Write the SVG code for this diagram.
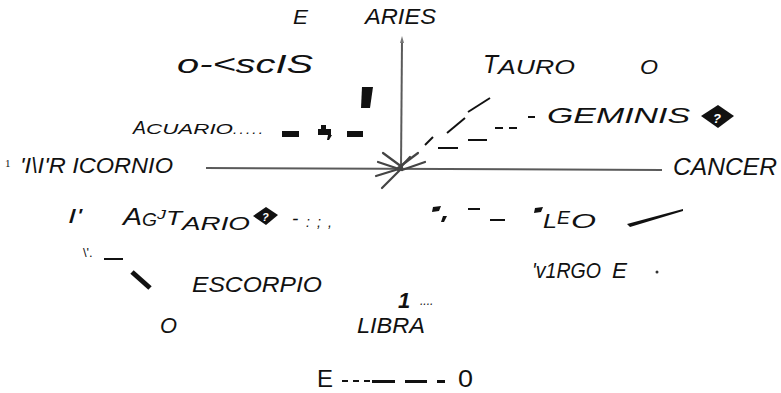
<svg xmlns="http://www.w3.org/2000/svg" width="781" height="393" viewBox="0 0 781 393">
<style>
text{font-family:"Liberation Sans",Arial,sans-serif;fill:#111;font-style:italic}
.ax{stroke:#5a5a5a;stroke-width:2;fill:none}
.ray{stroke:#444;stroke-width:2.2;stroke-linecap:round}
.ink{stroke:#111;stroke-width:2;stroke-linecap:butt}
.blk{fill:#111}
</style>
<rect width="781" height="393" fill="#fff"/>
<g id="connectors">
<line class="ax" x1="402" y1="40" x2="401" y2="168"/>
<polygon points="402,36 400,43 404,43" fill="#777"/>
<line class="ax" x1="206" y1="168" x2="662" y2="170"/>
<g id="burst">
<line class="ray" x1="378" y1="162" x2="402" y2="170"/>
<line class="ray" x1="383" y1="153" x2="402" y2="167"/>
<line class="ray" x1="418" y1="153" x2="398" y2="168"/>
<line class="ray" x1="425" y1="162" x2="402" y2="170"/>
<line class="ray" x1="376" y1="176" x2="402" y2="168"/>
<line class="ray" x1="382" y1="188" x2="400" y2="170"/>
<line class="ray" x1="410" y1="157" x2="398" y2="170"/>
</g>
</g>
<g id="aries"><text x="293" y="24" font-size="21" textLength="15" lengthAdjust="spacingAndGlyphs">E</text><text x="365" y="24" font-size="22" textLength="71" lengthAdjust="spacingAndGlyphs">ARIES</text></g>
<g id="piscis"><text x="177" y="73" font-size="25" textLength="136" lengthAdjust="spacingAndGlyphs">o-&lt;scIS</text>
<polygon class="blk" points="362,87 373,87 370,108 361,108"/></g>
<g id="tauro"><text x="483" y="73" font-size="26" textLength="15" lengthAdjust="spacingAndGlyphs">T</text><text x="498" y="74" font-size="21" textLength="77" lengthAdjust="spacingAndGlyphs">AURO</text><text x="640" y="74" font-size="21" textLength="18" lengthAdjust="spacingAndGlyphs">O</text></g>
<g id="geminis">
<line class="ink" x1="468" y1="112" x2="490" y2="98"/>
<line class="ink" x1="447" y1="133" x2="465" y2="118"/>
<line class="ink" x1="425" y1="145" x2="433" y2="137"/>
<line class="ink" x1="438" y1="148" x2="458" y2="148"/>
<line class="ink" x1="468" y1="140" x2="487" y2="140"/>
<line class="ink" x1="495" y1="128" x2="503" y2="128"/>
<line class="ink" x1="509" y1="128" x2="517" y2="128"/>
<line class="ink" x1="528" y1="117" x2="535" y2="117"/>
<text x="547" y="123" font-size="22" textLength="143" lengthAdjust="spacingAndGlyphs">GEMINIS</text>
<polygon class="blk" points="718,105 734,116 718,128 701,116"/>
<text x="713" y="123" font-size="13" font-weight="bold" style="fill:#fff">?</text>
</g>
<g id="acuario"><text x="133" y="134" font-size="19" textLength="13" lengthAdjust="spacingAndGlyphs">A</text><text x="146" y="134" font-size="15" textLength="87" lengthAdjust="spacingAndGlyphs">CUARIO</text><text x="233" y="134" font-size="15" textLength="30" lengthAdjust="spacing">.....</text>
<rect class="blk" x="282" y="131" width="17" height="6"/>
<rect class="blk" x="318" y="129" width="13" height="6"/>
<rect class="blk" x="321" y="125" width="5" height="4"/>
<path class="blk" d="M328,135 h4 l-3,5 h-2z"/>
<rect class="blk" x="347" y="131" width="16" height="6"/></g>
<g id="capricornio"><text x="5" y="167" font-size="11" style="font-family:'Liberation Serif',serif;font-style:normal">1</text><text x="20" y="173" font-size="22" textLength="153" lengthAdjust="spacingAndGlyphs">'I\I'R ICORNIO</text></g>
<g id="cancer"><text x="673" y="175" font-size="23" textLength="104" lengthAdjust="spacingAndGlyphs">CANCER</text></g>
<g id="sagitario">
<text x="68" y="223" font-size="21" textLength="14" lengthAdjust="spacingAndGlyphs">I'</text>
<text x="123" y="225" font-size="23" textLength="19" lengthAdjust="spacingAndGlyphs">A</text>
<text x="142" y="226" font-size="18" textLength="15" lengthAdjust="spacingAndGlyphs">G</text>
<text x="157" y="219" font-size="13" textLength="9" lengthAdjust="spacingAndGlyphs">J</text>
<text x="166" y="225" font-size="21" textLength="16" lengthAdjust="spacingAndGlyphs">T</text>
<text x="182" y="230" font-size="19" textLength="68" lengthAdjust="spacingAndGlyphs">ARIO</text>
<polygon class="blk" points="266,207 278,215 266,225 253,216"/>
<text x="262" y="221" font-size="11" font-weight="bold" style="fill:#fff">?</text>
<text x="292" y="225" font-size="19">-</text>
<text x="306" y="227" font-size="14" textLength="26" lengthAdjust="spacing">:;,</text>
<text x="83" y="257" font-size="13" style="font-style:normal">\'.</text>
<line class="ink" x1="104" y1="259" x2="123" y2="259" stroke-width="1.5"/>
<line x1="132" y1="272" x2="150" y2="288" stroke="#111" stroke-width="5"/>
</g>
<g id="leo">
<path class="blk" d="M433,207 l8,-1 l-2,5 l-7,1z"/>
<path class="blk" d="M443,216 l4,0 l-3,6 l-3,0z"/>
<line class="ink" x1="468" y1="209" x2="480" y2="209"/>
<line class="ink" x1="490" y1="220" x2="505" y2="220"/>
<path class="blk" d="M535,208 l8,-1 l-2,5 l-7,1z"/>
<text x="543" y="228" font-size="21" textLength="14" lengthAdjust="spacingAndGlyphs">L</text>
<text x="557" y="224" font-size="18" textLength="13" lengthAdjust="spacingAndGlyphs">E</text>
<text x="571" y="228" font-size="20" textLength="25" lengthAdjust="spacingAndGlyphs">O</text>
<path class="blk" d="M627,224 L683,209 L683,211 L630,227z"/>
</g>
<g id="escorpio"><text x="192" y="292" font-size="22" textLength="130" lengthAdjust="spacingAndGlyphs">ESCORPIO</text></g>
<g id="virgo"><text x="532" y="278" font-size="22" textLength="69" lengthAdjust="spacingAndGlyphs">'v1RGO</text><text x="612" y="278" font-size="22" textLength="15" lengthAdjust="spacingAndGlyphs">E</text><circle cx="657" cy="272" r="1.5" fill="#333"/></g>
<g id="libra"><text x="398" y="308" font-size="22" font-weight="bold">1</text><text x="420" y="305" font-size="12">....</text><text x="357" y="333" font-size="22" textLength="68" lengthAdjust="spacingAndGlyphs">LIBRA</text></g>
<g id="o-left"><text x="160" y="333" font-size="22" textLength="17" lengthAdjust="spacingAndGlyphs">O</text></g>
<g id="bottom">
<text x="317" y="387" font-size="24" style="font-style:normal" textLength="16" lengthAdjust="spacingAndGlyphs">E</text>
<rect class="blk" x="342" y="380" width="6" height="2"/>
<rect class="blk" x="353" y="380" width="6" height="2"/>
<rect class="blk" x="364" y="380" width="6" height="2"/>
<rect class="blk" x="372" y="380" width="23" height="3"/>
<rect class="blk" x="405" y="380" width="22" height="3"/>
<rect class="blk" x="437" y="380" width="8" height="3"/>
<text x="458" y="387" font-size="24" style="font-style:normal" textLength="15" lengthAdjust="spacingAndGlyphs">0</text>
</g>
</svg>
